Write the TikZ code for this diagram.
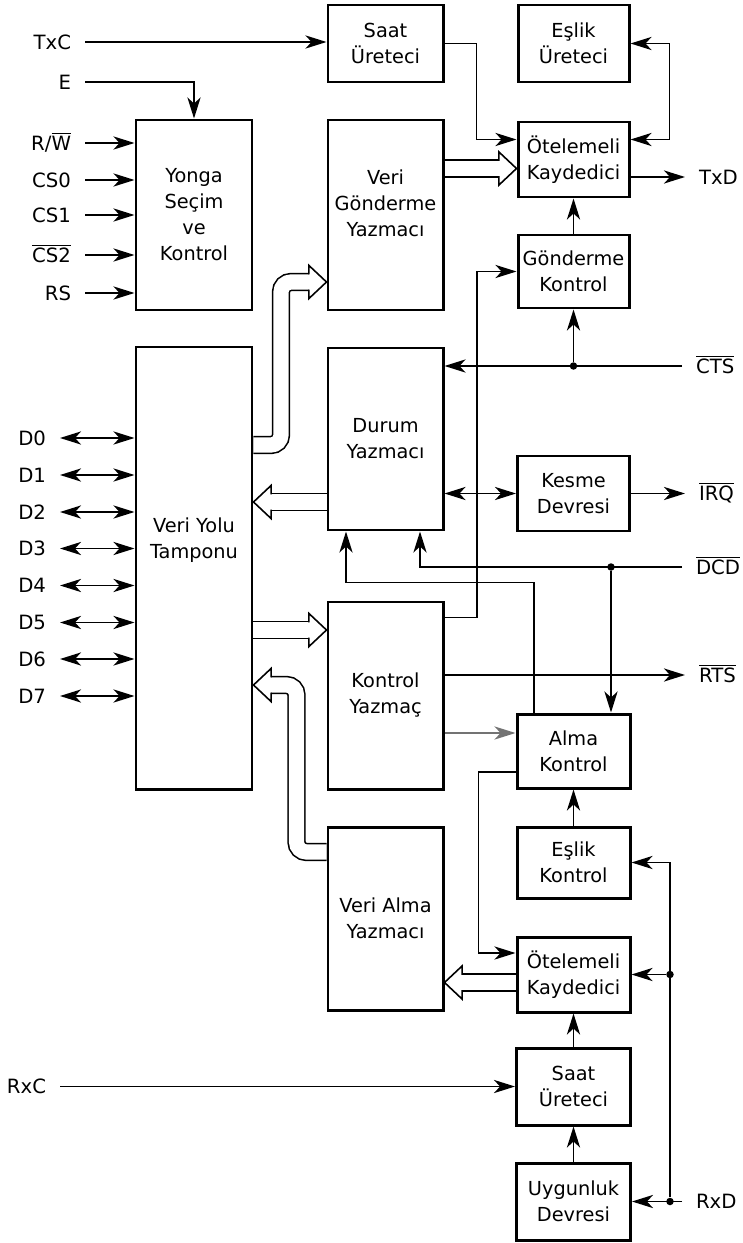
\documentclass[tikz,border=0pt]{standalone}
\usepackage{fontspec}
\setmainfont{DejaVu Sans}
\usepackage{tikz}
\usetikzlibrary{arrows.meta, calc}
\newcommand{\negsig}[1]{$\overline{\mbox{#1}}$}
\tikzset{
  >={Stealth[length=12pt, width=7.5pt, inset=3.5pt]},
  blk/.style={rectangle, draw, line width=1.7pt, align=center,
              font=\fontsize{11}{14.8}\selectfont, inner sep=2pt},
  lbltxt/.style={align=center, font=\fontsize{11}{14.8}\selectfont},
  wire/.style={line width=1.1pt},
  arr/.style={wire, ->},
  pinl/.style={font=\fontsize{11.2}{13}\selectfont, inner sep=0pt,
               outer xsep=0.28cm, text height=8.2pt, text depth=0pt},
  jdot/.style={circle, fill, inner sep=0pt, minimum size=0.15cm},
  bus/.style={double=white, double distance=8.6pt, line width=0.9pt,
              rounded corners=0.2cm, shorten >=10pt},
  bushead/.pic={\draw[line width=0.9pt, fill=white]
                (-10pt,4.4pt) -- (-10pt,9.4pt) -- (0,0) -- (-10pt,-9.4pt) -- (-10pt,-4.4pt);},
}
\begin{document}
\begin{tikzpicture}
  \useasboundingbox (0,0) rectangle (14.84,-24.86);
  % ── Blocks ─────────────────────────────────────────────────────────────────
  \node[blk, minimum width=2.30cm, minimum height=1.54cm] (saattx)    at (7.71,-0.87)  {Saat\\Üreteci};
  \node[blk, minimum width=2.22cm, minimum height=1.54cm] (esliktx)   at (11.47,-0.87) {Eşlik\\Üreteci};
  \node[blk, minimum width=2.32cm, minimum height=3.80cm] (yonga)     at (3.88,-4.30)  {Yonga\\Seçim\\ve\\Kontrol};
  \node[blk, minimum width=2.30cm, minimum height=3.80cm,
        label={[lbltxt, yshift=0.24cm]center:{Veri\\Gönderme\\Yazmacı}}] (gonderyaz) at (7.71,-4.30) {};
  \node[blk, minimum width=2.22cm, minimum height=1.50cm] (oteltx)    at (11.47,-3.19) {Ötelemeli\\Kaydedici};
  \node[blk, minimum width=2.22cm, minimum height=1.46cm] (gonderkon) at (11.47,-5.43) {Gönderme\\Kontrol};
  \node[blk, minimum width=2.32cm, minimum height=8.84cm,
        label={[lbltxt, yshift=0.56cm]center:{Veri Yolu\\Tamponu}}] (tampon) at (3.88,-11.36) {};
  \node[blk, minimum width=2.30cm, minimum height=3.64cm] (durum)     at (7.71,-8.78)  {Durum\\Yazmacı};
  \node[blk, minimum width=2.24cm, minimum height=1.50cm] (kesme)     at (11.47,-9.87) {Kesme\\Devresi};
  \node[blk, minimum width=2.30cm, minimum height=3.74cm] (kontrolyaz) at (7.71,-13.91) {Kontrol\\Yazmaç};
  \node[blk, minimum width=2.26cm, minimum height=1.48cm] (almakon)   at (11.47,-15.02) {Alma\\Kontrol};
  \node[blk, minimum width=2.30cm, minimum height=3.66cm] (verialma)  at (7.71,-18.37) {Veri Alma\\Yazmacı};
  \node[blk, minimum width=2.26cm, minimum height=1.42cm] (eslikkon)  at (11.47,-17.25) {Eşlik\\Kontrol};
  \node[blk, minimum width=2.26cm, minimum height=1.50cm] (otelrx)    at (11.47,-19.49) {Ötelemeli\\Kaydedici};
  \node[blk, minimum width=2.28cm, minimum height=1.54cm] (saatrx)    at (11.47,-21.73) {Saat\\Üreteci};
  \node[blk, minimum width=2.28cm, minimum height=1.54cm] (uygun)     at (11.47,-24.03) {Uygunluk\\Devresi};

  % ── Pins ───────────────────────────────────────────────────────────────────
  \node[pinl, anchor=east] (txc) at (1.70,-0.84)  {TxC};
  \node[pinl, anchor=east] (en)  at (1.70,-1.64)  {E};
  \node[pinl, anchor=east] (rw)  at (1.70,-2.86)  {R/\negsig{W}};
  \node[pinl, anchor=east] (cs0) at (1.70,-3.60)  {CS0};
  \node[pinl, anchor=east] (cs1) at (1.70,-4.30)  {CS1};
  \node[pinl, anchor=east] (cs2) at (1.70,-5.10)  {\negsig{CS2}};
  \node[pinl, anchor=east] (rs)  at (1.70,-5.86)  {RS};
  \node[pinl, anchor=east] (d0)  at (1.20,-8.76)  {D0};
  \node[pinl, anchor=east] (d1)  at (1.20,-9.50)  {D1};
  \node[pinl, anchor=east] (d2)  at (1.20,-10.24) {D2};
  \node[pinl, anchor=east] (d3)  at (1.20,-10.97) {D3};
  \node[pinl, anchor=east] (d4)  at (1.20,-11.71) {D4};
  \node[pinl, anchor=east] (d5)  at (1.20,-12.45) {D5};
  \node[pinl, anchor=east] (d6)  at (1.20,-13.18) {D6};
  \node[pinl, anchor=east] (d7)  at (1.20,-13.92) {D7};
  \node[pinl, anchor=east] (rxc) at (1.20,-21.73) {RxC};
  \node[pinl, anchor=west] (txd) at (13.70,-3.54)  {TxD};
  \node[pinl, anchor=west] (cts) at (13.64,-7.32)  {\negsig{CTS}};
  \node[pinl, anchor=west] (irq) at (13.70,-9.87)  {\negsig{IRQ}};
  \node[pinl, anchor=west] (dcd) at (13.64,-11.34) {\negsig{DCD}};
  \node[pinl, anchor=west] (rts) at (13.70,-13.50) {\negsig{RTS}};
  \node[pinl, anchor=west] (rxd) at (13.64,-24.03) {RxD};

  % ── Coordinates for taps ───────────────────────────────────────────────────
  \coordinate (otin)  at ([yshift=0.40cm]oteltx.west);
  \coordinate (otpar) at ([yshift=0.40cm]oteltx.east);
  \coordinate (almain) at ([xshift=0.75cm]almakon.north);
  \coordinate (durin) at ([xshift=-0.79cm]durum.south);
  \coordinate (dcdin) at ([xshift=0.69cm]durum.south);
  \coordinate (almin) at ([yshift=0.36cm]almakon.west);
  \coordinate (otrin) at ([yshift=0.43cm]otelrx.west);
  \coordinate (rxj)   at ([xshift=0.76cm]uygun.east);

  % ── Left side inputs ───────────────────────────────────────────────────────
  \draw[arr] (txc.east) -- (txc.east -| saattx.west);
  \draw[arr] (en.east)  -| (yonga.north);
  \draw[arr] (rw.east)  -- (rw.east -| yonga.west);
  \draw[arr] (cs0.east) -- (cs0.east -| yonga.west);
  \draw[arr] (cs1.east) -- (cs1.east -| yonga.west);
  \draw[arr] (cs2.east) -- (cs2.east -| yonga.west);
  \draw[arr] (rs.east)  -- (rs.east -| yonga.west);
  \draw[wire, <->] (d0.east) -- (d0.east -| tampon.west);
  \draw[wire, <->] (d1.east) -- (d1.east -| tampon.west);
  \draw[wire, <->] (d2.east) -- (d2.east -| tampon.west);
  \draw[wire, <->] (d3.east) -- (d3.east -| tampon.west);
  \draw[wire, <->] (d4.east) -- (d4.east -| tampon.west);
  \draw[wire, <->] (d5.east) -- (d5.east -| tampon.west);
  \draw[wire, <->] (d6.east) -- (d6.east -| tampon.west);
  \draw[wire, <->] (d7.east) -- (d7.east -| tampon.west);
  \draw[arr] (rxc.east) -- (rxc.east -| saatrx.west);

  % ── Transmit side ──────────────────────────────────────────────────────────
  \draw[arr] (saattx.east) -| ([xshift=-0.80cm]otin) -- (otin);
  \draw[wire, <->] (otpar) -- ([xshift=0.78cm]otpar) |- (esliktx.east);
  \draw[arr] (txd.west -| oteltx.east) -- (txd.west);
  \draw[arr] (gonderkon) -- (oteltx);
  \draw[arr] ([yshift=-0.34cm]kontrolyaz.north east) -| ([xshift=-0.79cm]gonderkon.west) -- (gonderkon.west);
  \node[jdot] (ctsj) at (cts.west -| gonderkon.south) {};
  \draw[arr] (cts.west) -- (cts.west -| durum.east);
  \draw[arr] (ctsj) -- (gonderkon.south);

  % ── Status / interrupt ─────────────────────────────────────────────────────
  \draw[wire, <->] (kesme.west -| durum.east) -- (kesme.west);
  \draw[arr] (kesme.east) -- (irq.west);
  \draw[arr] (dcd.west) -| (dcdin);
  \node[jdot] (dcdj) at (dcd.west -| almain) {};
  \draw[arr] (dcdj) -- (almain);
  \draw[arr] ([xshift=-0.79cm]almakon.north) -- ++(0,2.60) -| (durin);
  \draw[arr] (rts.west -| kontrolyaz.east) -- (rts.west);

  % ── Receive side ───────────────────────────────────────────────────────────
  \draw[arr, black!55] (almin -| kontrolyaz.east) -- (almin);
  \draw[arr] ([yshift=-0.42cm]almakon.west) -- ++(-0.74,0) |- (otrin);
  \draw[arr] (eslikkon) -- (almakon);
  \draw[arr] (saatrx) -- (otelrx);
  \draw[arr] (uygun) -- (saatrx);
  \draw[arr] (rxd.west) -- (uygun.east);
  \node[jdot] (rxdj) at (rxj) {};
  \draw[arr] (rxdj) |- (eslikkon.east);
  \node[jdot] (otrj) at (otelrx.east -| rxj) {};
  \draw[arr] (otrj) -- (otelrx.east);

  % ── Data buses ─────────────────────────────────────────────────────────────
  \coordinate (b1e) at ([yshift=-1.34cm]gonderyaz.west);
  \draw[bus] ([yshift=2.46cm]tampon.east) -- ++(0.55,0) |- (b1e);
  \pic at (b1e) {bushead};
  \coordinate (b2e) at ([yshift=1.31cm]kontrolyaz.west);
  \draw[bus] (b2e -| tampon.east) -- (b2e);
  \pic at (b2e) {bushead};
  \coordinate (b3s) at ([yshift=-1.26cm]durum.west);
  \draw[bus] (b3s) -- (b3s -| tampon.east);
  \pic[rotate=180] at (b3s -| tampon.east) {bushead};
  \coordinate (b4s) at ([yshift=1.33cm]verialma.west);
  \coordinate (b4e) at ([yshift=-2.34cm]tampon.east);
  \draw[bus] (b4s) -- ++(-0.60,0) |- (b4e);
  \pic[rotate=180] at (b4e) {bushead};
  \coordinate (b5e) at ([yshift=-0.18cm]oteltx.west);
  \draw[bus] (b5e -| gonderyaz.east) -- (b5e);
  \pic at (b5e) {bushead};
  \coordinate (b6s) at ([yshift=-0.16cm]otelrx.west);
  \draw[bus] (b6s) -- (b6s -| verialma.east);
  \pic[rotate=180] at (b6s -| verialma.east) {bushead};
\end{tikzpicture}
\end{document}
